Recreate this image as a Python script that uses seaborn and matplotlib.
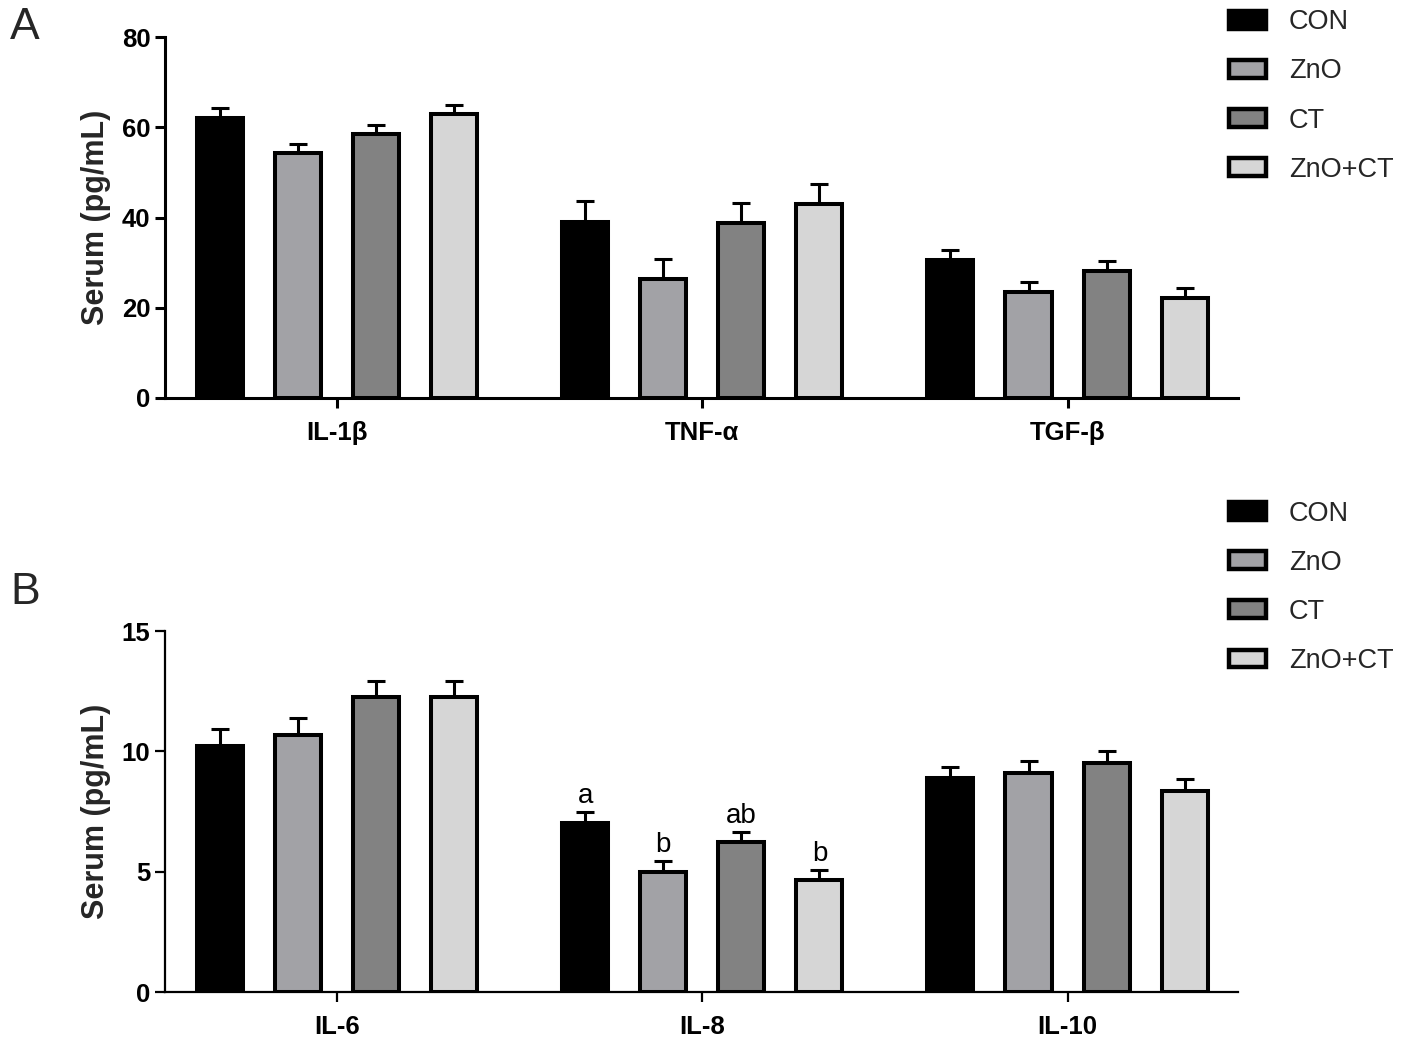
import matplotlib
matplotlib.use("Agg")
import matplotlib.pyplot as plt
import seaborn as sns
import pandas as pd
import numpy as np
from matplotlib.patches import Patch

sns.set_theme(style="ticks")
plt.rcParams['font.family'] = ['Liberation Sans', 'DejaVu Sans']

groups = ["CON", "ZnO", "CT", "ZnO+CT"]
colors = ["#000000", "#a2a2a6", "#828282", "#d6d6d6"]

# Panel A
cyto_a = ["IL-1β", "TNF-α", "TGF-β"]
mean_a = {
    "CON":    [62.0, 39.0, 30.6],
    "ZnO":    [54.2, 26.4, 23.5],
    "CT":     [58.4, 38.8, 28.2],
    "ZnO+CT": [62.9, 43.0, 22.2],
}
err_a = {
    "CON":    [2.2, 4.6, 2.2],
    "ZnO":    [2.1, 4.4, 2.2],
    "CT":     [2.1, 4.4, 2.2],
    "ZnO+CT": [2.1, 4.4, 2.2],
}

# Panel B
cyto_b = ["IL-6", "IL-8", "IL-10"]
mean_b = {
    "CON":    [10.22, 7.04, 8.88],
    "ZnO":    [10.69, 5.00, 9.11],
    "CT":     [12.27, 6.22, 9.51],
    "ZnO+CT": [12.27, 4.64, 8.36],
}
err_b = {
    "CON":    [0.72, 0.46, 0.46],
    "ZnO":    [0.69, 0.43, 0.49],
    "CT":     [0.67, 0.43, 0.49],
    "ZnO+CT": [0.67, 0.43, 0.49],
}
letters_b = {"IL-8": ["a", "b", "ab", "b"]}

yticks_a = [0, 20, 40, 60, 80]
yticks_b = [0, 5, 10, 15]

W, H = 1418, 1052
fig = plt.figure(figsize=(W / 100, H / 100), dpi=100)


def make_df(cats, means, errs):
    rows = []
    for g in groups:
        for c, m, e in zip(cats, means[g], errs[g]):
            rows.append({"cytokine": c, "group": g, "mean": m, "err": e})
    return pd.DataFrame(rows)


def draw_panel(rect, cats, means, errs, yticks, spine_lw, letters=None):
    ax = fig.add_axes(rect)
    df = make_df(cats, means, errs)
    sns.barplot(data=df, x="cytokine", y="mean", hue="group", order=cats,
                hue_order=groups, palette=colors, width=0.855, gap=0.41,
                errorbar=None, edgecolor="black", linewidth=2.9,
                legend=False, ax=ax, zorder=3, saturation=1)
    for gi, (g, cont) in enumerate(zip(groups, ax.containers)):
        xs = [p.get_x() + p.get_width() / 2 for p in cont.patches]
        ys = means[g]
        es = errs[g]
        ax.errorbar(xs, ys, yerr=[np.zeros(len(es)), es], fmt="none",
                    ecolor="black", elinewidth=2.2, capsize=6.8,
                    capthick=2.2, zorder=2)
        if letters is not None:
            for ci, c in enumerate(cats):
                if c in letters:
                    ax.text(xs[ci], ys[ci] + es[ci] + 0.008 * yticks[-1],
                            letters[c][gi], ha="center", va="bottom",
                            fontsize=20, color="black", zorder=5)
    ax.set_xlim(-0.471, 2.468)
    ax.set_ylim(0, yticks[-1])
    ax.set_yticks(yticks)
    ax.set_yticklabels([str(t) for t in yticks], fontsize=18.5, fontweight="bold")
    ax.set_xticks(range(len(cats)))
    ax.set_xticklabels(cats, fontsize=18.5, fontweight="bold")
    ax.set_xlabel("")
    ax.set_ylabel("Serum (pg/mL)", fontsize=22, fontweight="bold", labelpad=8)
    sns.despine(ax=ax)
    for s in ("left", "bottom"):
        ax.spines[s].set_linewidth(spine_lw)
        ax.spines[s].set_color("black")
    ax.tick_params(axis="both", direction="out", length=7.5, width=spine_lw,
                   colors="black")
    ax.tick_params(axis="x", pad=9)
    ax.tick_params(axis="y", pad=3)
    ax.set_facecolor("white")
    return ax


def add_legend(top):
    handles = [Patch(facecolor=c, edgecolor="black", linewidth=3.2)
               for c in colors]
    fig.legend(handles, groups, loc="upper left",
               bbox_to_anchor=(0.867, top), bbox_transform=fig.transFigure,
               frameon=False, fontsize=19.5, handlelength=1.35,
               handleheight=0.62, handletextpad=0.85, labelspacing=0.85,
               borderpad=0, borderaxespad=0)


axA = draw_panel([0.1164, 0.6217, 0.757, 0.3431], cyto_a, mean_a, err_a,
                 yticks_a, 2.2)
axB = draw_panel([0.1164, 0.0570, 0.757, 0.3431], cyto_b, mean_b, err_b,
                 yticks_b, 1.6, letters=letters_b)

add_legend(0.991)
add_legend(0.524)

fig.text(0.007, 0.993, "A", fontsize=32, va="top", ha="left")
fig.text(0.007, 0.456, "B", fontsize=32, va="top", ha="left")

fig.savefig("out.png", dpi=100, facecolor="white")
